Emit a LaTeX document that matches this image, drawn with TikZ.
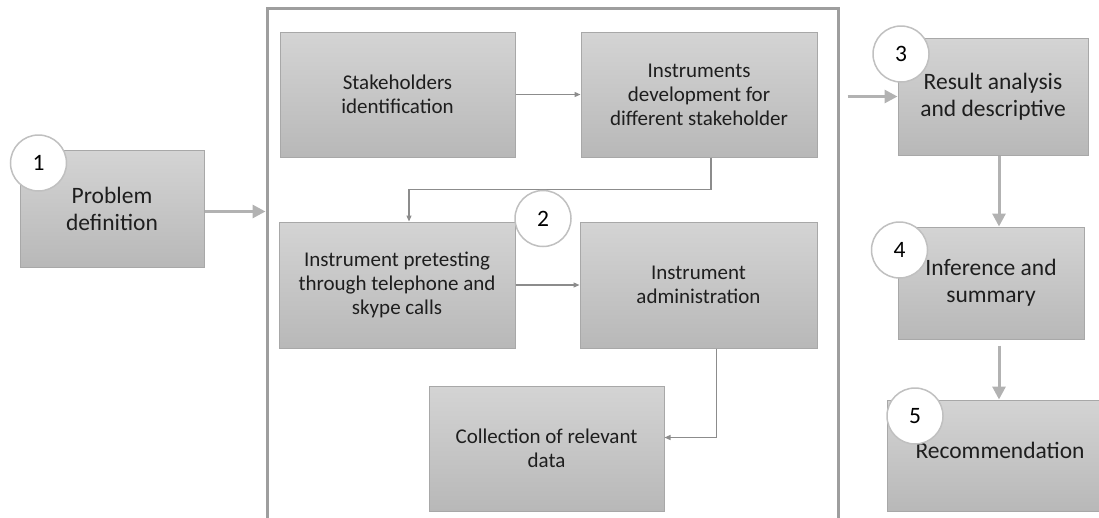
\documentclass[tikz,border=0pt]{standalone}
\usepackage{fontspec}
\setmainfont{Carlito}
\usetikzlibrary{arrows.meta}

\definecolor{boxtop}{RGB}{212,212,212}
\definecolor{boxbottom}{RGB}{184,184,184}
\definecolor{boxedge}{RGB}{168,168,168}
\definecolor{ringedge}{RGB}{192,192,192}
\definecolor{framegray}{RGB}{158,158,158}
\definecolor{thingray}{RGB}{140,140,140}
\definecolor{thickgray}{RGB}{178,178,178}
\definecolor{textgray}{RGB}{30,30,30}

\newcommand\stepfont{\fontsize{21}{24}\selectfont}
\newcommand\bigstepfont{\fontsize{23.5}{27}\selectfont}
\newcommand\ringsize{56pt}

\tikzset{
  stagebox/.style={draw=boxedge, line width=1pt, top color=boxtop, bottom color=boxbottom,
    text=textgray, font=\stepfont, align=center, inner sep=0pt},
  mainbox/.style={stagebox, font=\bigstepfont},
  stepnum/.style={circle, draw=ringedge, line width=1.5pt, fill=white,
    minimum size=\ringsize, inner sep=0pt, text=black, font=\bigstepfont},
  stageframe/.style={draw=framegray, line width=3pt, inner sep=0pt},
  thinarrow/.style={draw=thingray, line width=1.2pt, -{Triangle[length=6pt,width=5pt]}},
  thickarrow/.style={draw=thickgray, line width=3pt, -{Triangle[length=13pt,width=13pt]}}
}

\begin{document}
\begin{tikzpicture}[x=1pt, y=-1pt]
    \useasboundingbox (0,0) rectangle (1099,517);
    % frame of the data stage, open at the bottom
    \node[stageframe, minimum width=571pt, minimum height=584pt] (stage) at (552.5,300) {};

    \node[mainbox, minimum width=184pt, minimum height=117pt] (prob) at (112,208.5) {Problem\\definition};

    \node[stagebox, minimum width=235pt, minimum height=125pt] (stake) at (397.5,94.5) {Stakeholders\\identification};
    \node[stagebox, minimum width=236pt, minimum height=125pt] (dev) at (699,94.5) {Instruments\\development for\\different stakeholder};
    \node[stagebox, minimum width=236pt, minimum height=126pt] (pretest) at (397,285) {Instrument pretesting\\through telephone and\\skype calls};
    \node[stagebox, minimum width=237pt, minimum height=126pt] (admin) at (698.5,285) {Instrument\\administration};
    \node[stagebox, minimum width=235pt, minimum height=125pt] (coll) at (546.5,448.5) {Collection of relevant\\data};

    \node[mainbox, minimum width=190pt, minimum height=117pt] (res) at (993,96.5) {Result analysis\\and descriptive};
    \node[mainbox, minimum width=186pt, minimum height=112pt] (inf) at (991,283) {Inference and\\summary};
    \node[mainbox, minimum width=240pt, minimum height=111pt] (rec) at (1007,455.5) {};
    \node[text=textgray, font=\bigstepfont] (rectext) at (1000,450) {Recommendation};

    \draw[thinarrow] (stake) -- (dev);
    \draw[thinarrow] ([xshift=12pt]dev.south) -- ++(0,32) -| ([xshift=12pt]pretest.north);
    \draw[thinarrow] (pretest) -- (admin);
    \draw[thinarrow] ([xshift=18pt]admin.south) |- ([yshift=11pt]coll.east);

    \draw[thickarrow] ([yshift=-3pt]prob.east) -- ([yshift=-3pt]prob.east -| stage.west);
    \draw[thickarrow, shorten <=8pt] (stage.east |- res.west) -- (res.west);
    \draw[thickarrow] ([xshift=6pt]res.south) -- ([xshift=6pt]res.south |- inf.north);
    \draw[thickarrow, shorten <=6pt] ([xshift=8pt]inf.south) -- ([xshift=8pt]inf.south |- rec.north);

    \node[stepnum] (n1) at (38.5,163) {1};
    \node[stepnum] (n2) at (543,218.5) {2};
    \node[stepnum] (n3) at (901,54) {3};
    \node[stepnum] (n4) at (899.5,250) {4};
    \node[stepnum] (n5) at (915,416) {5};
\end{tikzpicture}
\end{document}
